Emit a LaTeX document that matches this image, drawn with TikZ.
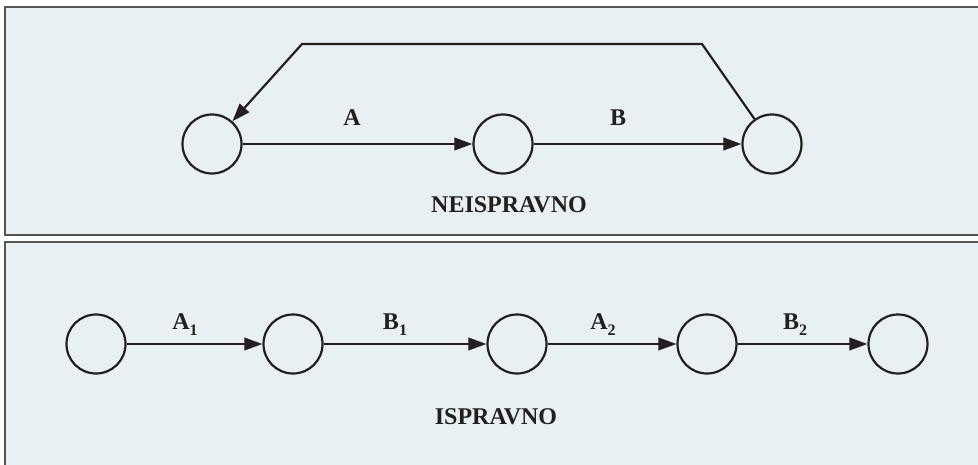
\documentclass[tikz,border=0pt]{standalone}
\usepackage{fontspec}
\setmainfont{Liberation Serif}
\usetikzlibrary{arrows.meta}
\definecolor{ink}{HTML}{231F20}
\definecolor{panelfill}{HTML}{E8F0F4}
\definecolor{panelline}{HTML}{555555}
\newcommand\subnum[1]{\raisebox{-0.27em}{\fontsize{16}{16}\selectfont #1}}
\tikzset{
  panel/.style={fill=panelfill, draw=panelline, line width=1.4pt},
  event/.style={circle, draw=ink, line width=2.2pt, minimum size=59pt, inner sep=0pt},
  act/.style={draw=ink, line width=2.2pt, -{Triangle[length=18pt,width=12.5pt]}},
  lbl/.style={text=ink, font=\bfseries\fontsize{24}{24}\selectfont, anchor=base, inner sep=0pt},
}
\begin{document}
\begin{tikzpicture}[x=1pt,y=-1pt]
\useasboundingbox (0,0) rectangle (978,464);
\clip (0,0) rectangle (978,464);
\fill[white] (0,0) rectangle (978,464);
% panels
\draw[panel] (5,7) rectangle (1000,235);
\draw[panel] (5,242) rectangle (1000,490);
% top panel
\node[event] (c1) at (212,144) {};
\node[event] (c2) at (503,144) {};
\node[event] (c3) at (772,144) {};
\coordinate (k1) at (702,44);
\coordinate (k2) at (302,44);
\draw[act] (c1) -- (c2);
\draw[act] (c2) -- (c3);
\draw[act, line join=miter] (c3) -- (k1) -- (k2) -- (c1);
\node[lbl] (la) at (352,125) {A};
\node[lbl] (lb) at (618,125) {B};
\node[lbl] (t1) at (509,212) {NEISPRAVNO};
% bottom panel
\node[event] (d1) at (96,344) {};
\node[event] (d2) at (293,344) {};
\node[event] (d3) at (517,344) {};
\node[event] (d4) at (707,344) {};
\node[event] (d5) at (898,344) {};
\draw[act] (d1) -- (d2);
\draw[act] (d2) -- (d3);
\draw[act] (d3) -- (d4);
\draw[act] (d4) -- (d5);
\node[lbl] (la1) at (185,329) {A\subnum{1}};
\node[lbl] (lb1) at (395,329) {B\subnum{1}};
\node[lbl] (la2) at (603,329) {A\subnum{2}};
\node[lbl] (lb2) at (795,329) {B\subnum{2}};
\node[lbl] (t2) at (496,424) {ISPRAVNO};
\end{tikzpicture}
\end{document}
